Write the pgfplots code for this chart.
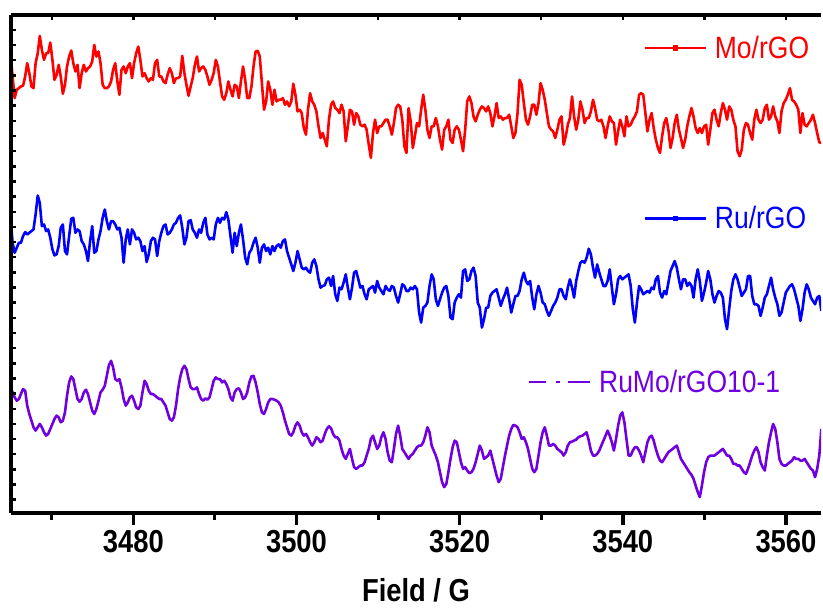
\documentclass[border=0pt]{standalone}
\usepackage{fontspec}
\setmainfont{Liberation Sans}[FakeStretch=0.86]
\usepackage{pgfplots}
\usepackage{pgfplotstable}
\pgfplotsset{compat=1.18}
\definecolor{mored}{RGB}{255,0,0}
\definecolor{rublue}{RGB}{0,0,255}
\definecolor{rumo}{RGB}{112,0,224}

\pgfplotstableread{
x r b p
3464.94 1440 945 435
3465.20 1370 870 420
3465.45 1305 840 405
3465.71 1330 855 395
3465.97 1335 870 400
3466.22 1340 870 415
3466.48 1342 890 430
3466.74 1370 902 425
3466.99 1410 895 380
3467.25 1380 900 355
3467.51 1340 905 335
3467.76 1335 910 315
3468.02 1410 955 305
3468.28 1440 1012 315
3468.53 1492 990 325
3468.79 1450 920 315
3469.05 1420 925 300
3469.31 1440 905 290
3469.56 1440 910 295
3469.82 1472 885 310
3470.08 1420 850 325
3470.33 1360 832 340
3470.59 1375 835 350
3470.85 1405 860 345
3471.10 1370 915 330
3471.36 1318 925 335
3471.62 1345 845 360
3471.87 1400 835 410
3472.13 1430 890 450
3472.39 1448 942 468
3472.64 1410 945 460
3472.90 1385 900 430
3473.16 1405 910 400
3473.41 1335 905 392
3473.67 1380 875 400
3473.93 1405 865 420
3474.19 1385 845 428
3474.44 1395 815 415
3474.70 1400 875 390
3474.96 1415 920 365
3475.21 1465 840 355
3475.47 1430 845 370
3475.73 1445 880 395
3475.98 1410 905 420
3476.24 1345 945 428
3476.50 1335 970 440
3476.75 1335 935 470
3477.01 1340 910 502
3477.27 1355 935 515
3477.52 1390 935 495
3477.78 1410 925 460
3478.04 1355 910 455
3478.29 1315 915 460
3478.55 1390 885 435
3478.81 1400 810 400
3479.07 1380 880 380
3479.32 1400 910 390
3479.58 1410 865 405
3479.84 1365 910 410
3480.09 1410 900 395
3480.35 1440 880 375
3480.61 1460 885 370
3480.86 1420 875 380
3481.12 1370 845 420
3481.38 1380 860 455
3481.63 1365 812 445
3481.89 1355 835 425
3482.15 1365 875 415
3482.40 1360 885 415
3482.66 1410 880 410
3482.92 1420 830 405
3483.18 1370 875 400
3483.43 1370 900 400
3483.69 1355 920 390
3483.95 1350 925 380
3484.20 1375 895 360
3484.46 1395 900 340
3484.72 1380 910 335
3484.97 1350 925 345
3485.23 1365 930 380
3485.49 1365 945 430
3485.74 1370 952 465
3486.00 1432 915 490
3486.26 1380 865 500
3486.51 1345 885 490
3486.77 1312 935 460
3487.03 1340 938 435
3487.28 1365 910 430
3487.54 1405 900 430
3487.80 1430 885 435
3488.06 1385 910 415
3488.31 1395 900 400
3488.57 1400 930 395
3488.83 1390 945 402
3489.08 1370 895 398
3489.34 1345 880 405
3489.60 1360 885 430
3489.85 1380 880 455
3490.11 1420 925 465
3490.37 1400 945 460
3490.62 1355 930 460
3490.88 1310 945 450
3491.14 1300 940 455
3491.40 1320 962 445
3491.65 1355 940 430
3491.91 1330 890 405
3492.17 1310 840 395
3492.42 1345 900 420
3492.68 1340 860 430
3492.94 1305 900 432
3493.19 1355 925 420
3493.45 1400 880 400
3493.71 1360 825 405
3493.96 1305 805 420
3494.22 1305 840 450
3494.48 1340 850 468
3494.73 1400 870 470
3494.99 1445 885 450
3495.25 1447 855 420
3495.50 1430 810 385
3495.76 1350 855 360
3496.02 1270 865 355
3496.28 1295 845 370
3496.53 1355 855 390
3496.79 1330 835 400
3497.05 1285 860 400
3497.30 1330 845 398
3497.56 1295 860 395
3497.82 1300 865 390
3498.07 1300 855 380
3498.33 1305 875 360
3498.59 1285 880 335
3498.84 1295 845 315
3499.10 1280 825 295
3499.36 1295 805 290
3499.61 1348 785 300
3499.87 1315 810 320
3500.13 1265 845 330
3500.39 1270 820 320
3500.64 1260 795 300
3500.90 1215 790 290
3501.16 1195 795 295
3501.41 1270 785 285
3501.67 1320 780 270
3501.93 1295 810 260
3502.18 1285 820 270
3502.44 1265 800 285
3502.70 1220 760 280
3502.95 1185 735 270
3503.21 1200 740 275
3503.47 1180 742 295
3503.72 1160 760 310
3503.98 1240 765 318
3504.24 1285 740 312
3504.49 1295 770 295
3504.75 1275 715 285
3505.01 1270 695 285
3505.27 1260 735 275
3505.52 1285 730 250
3505.78 1265 750 230
3506.04 1175 775 220
3506.29 1220 735 235
3506.55 1270 700 250
3506.81 1265 735 220
3507.06 1225 780 195
3507.32 1260 785 190
3507.58 1250 760 195
3507.83 1225 735 200
3508.09 1220 740 200
3508.35 1225 715 210
3508.60 1210 700 230
3508.86 1165 730 250
3509.12 1125 735 280
3509.38 1200 740 290
3509.63 1240 720 270
3509.89 1200 755 250
3510.15 1220 735 260
3510.40 1220 725 285
3510.66 1230 715 300
3510.92 1240 740 280
3511.17 1240 730 240
3511.43 1220 725 215
3511.69 1195 740 210
3511.94 1230 735 250
3512.20 1275 710 295
3512.46 1285 690 320
3512.71 1280 715 290
3512.97 1240 745 250
3513.23 1160 740 240
3513.48 1140 725 230
3513.74 1275 725 220
3514.00 1235 735 230
3514.26 1155 730 235
3514.51 1190 740 245
3514.77 1230 730 255
3515.03 1220 660 260
3515.28 1270 630 260
3515.54 1315 675 270
3515.80 1270 680 290
3516.05 1210 690 315
3516.31 1185 740 300
3516.57 1220 775 260
3516.82 1220 760 245
3517.08 1245 700 230
3517.34 1220 680 210
3517.59 1180 700 180
3517.85 1150 720 150
3518.11 1210 735 135
3518.37 1220 740 145
3518.62 1240 710 180
3518.88 1180 645 220
3519.14 1170 640 255
3519.39 1210 690 275
3519.65 1220 705 270
3519.91 1210 715 240
3520.16 1180 705 210
3520.42 1145 785 190
3520.68 1210 790 195
3520.93 1295 755 185
3521.19 1310 760 177
3521.45 1290 785 180
3521.70 1250 795 190
3521.96 1235 770 210
3522.22 1255 690 235
3522.47 1270 675 260
3522.73 1280 615 245
3522.99 1275 640 220
3523.25 1265 675 225
3523.50 1280 675 230
3523.76 1260 710 245
3524.02 1220 720 220
3524.27 1250 725 195
3524.53 1290 730 170
3524.79 1245 705 150
3525.04 1250 680 160
3525.30 1240 700 195
3525.56 1245 715 230
3525.81 1245 735 260
3526.07 1255 700 290
3526.33 1220 660 310
3526.58 1185 685 322
3526.84 1200 710 320
3527.10 1260 710 315
3527.35 1360 725 300
3527.61 1345 760 280
3527.87 1290 780 285
3528.13 1240 755 270
3528.38 1225 745 250
3528.64 1250 755 220
3528.90 1285 705 190
3529.15 1285 670 180
3529.41 1255 715 190
3529.67 1290 740 230
3529.92 1350 720 270
3530.18 1330 690 300
3530.44 1300 685 315
3530.69 1260 665 290
3530.95 1220 650 260
3531.21 1210 665 260
3531.46 1205 680 265
3531.72 1185 690 260
3531.98 1210 705 250
3532.24 1240 730 245
3532.49 1250 730 240
3532.75 1165 710 230
3533.01 1190 700 240
3533.26 1225 735 260
3533.52 1245 760 270
3533.78 1310 735 272
3534.03 1250 705 275
3534.29 1210 755 278
3534.55 1240 785 285
3534.80 1295 810 288
3535.06 1270 815 290
3535.32 1230 810 295
3535.57 1245 825 300
3535.83 1245 852 275
3536.09 1265 835 245
3536.35 1300 795 230
3536.60 1275 765 230
3536.86 1240 805 235
3537.12 1235 780 245
3537.37 1240 760 260
3537.63 1220 740 275
3537.89 1185 740 290
3538.14 1220 755 305
3538.40 1250 790 290
3538.66 1235 735 270
3538.91 1230 685 245
3539.17 1165 715 280
3539.43 1205 760 320
3539.68 1240 770 350
3539.94 1220 760 360
3540.20 1190 765 330
3540.45 1250 770 280
3540.71 1220 775 230
3540.97 1225 740 230
3541.23 1240 670 245
3541.48 1250 630 255
3541.74 1265 690 255
3542.00 1315 740 245
3542.25 1320 730 230
3542.51 1315 715 210
3542.77 1260 720 240
3543.02 1205 725 270
3543.28 1240 720 285
3543.54 1260 735 290
3543.79 1215 730 275
3544.05 1180 760 250
3544.31 1155 770 230
3544.56 1140 720 215
3544.82 1190 705 210
3545.08 1230 725 220
3545.33 1245 715 230
3545.59 1210 750 240
3545.85 1155 785 245
3546.11 1185 800 250
3546.36 1230 815 255
3546.62 1255 795 260
3546.88 1210 760 240
3547.13 1185 730 220
3547.39 1155 760 210
3547.65 1180 760 200
3547.90 1220 740 190
3548.16 1250 750 180
3548.42 1275 740 172
3548.67 1250 705 160
3548.93 1215 760 140
3549.19 1200 790 120
3549.44 1215 755 105
3549.70 1200 695 140
3549.96 1220 720 180
3550.22 1225 750 210
3550.47 1165 785 225
3550.73 1210 760 230
3550.99 1260 715 230
3551.24 1270 690 230
3551.50 1240 710 235
3551.76 1220 725 240
3552.01 1260 720 245
3552.27 1290 705 250
3552.53 1270 640 240
3552.78 1240 610 230
3553.04 1280 670 230
3553.30 1270 725 220
3553.55 1240 760 205
3553.81 1220 775 205
3554.07 1145 760 200
3554.33 1130 735 200
3554.58 1150 710 190
3554.84 1210 720 180
3555.10 1230 730 175
3555.35 1225 770 190
3555.61 1200 770 210
3555.87 1180 710 230
3556.12 1240 685 245
3556.38 1270 685 255
3556.64 1240 680 240
3556.89 1230 650 210
3557.15 1240 675 195
3557.41 1275 705 185
3557.66 1285 715 230
3557.92 1240 740 270
3558.18 1250 765 300
3558.43 1280 730 325
3558.69 1250 705 310
3558.95 1235 685 270
3559.20 1200 650 220
3559.46 1265 660 205
3559.72 1290 690 200
3559.98 1300 720 200
3560.23 1315 730 205
3560.49 1335 740 210
3560.75 1300 745 215
3561.00 1295 730 225
3561.26 1285 705 220
3561.52 1270 680 220
3561.77 1200 635 215
3562.03 1260 670 215
3562.29 1225 720 220
3562.54 1220 745 210
3562.80 1230 730 200
3563.06 1240 705 190
3563.31 1255 695 185
3563.57 1230 685 165
3563.83 1200 705 190
3564.09 1172 710 230
3564.34 1170 665 310
}\spectra

\pgfplotsset{
  common/.style={
    scale only axis, width=812bp, height=499bp,
    xmin=3465, xmax=3564.3, ymin=58, ymax=1555,
  },
  leg/.style={
    common, hide axis,
    legend cell align=left,
    legend style={draw=none, fill=none, inner sep=0pt, outer sep=0pt,
      nodes={inner sep=0pt, font=\fontsize{31}{31}\selectfont}},
  },
}

\begin{document}
\begin{tikzpicture}
% main axis with data, bottom ticks and label
\begin{axis}[common,
  axis x line*=bottom, axis y line*=left,
  axis line style={line width=4bp, -},
  every outer x axis line/.append style={-},
  every outer y axis line/.append style={-},
  xtick={3480,3500,...,3560},
  minor xtick={3470,3490,...,3550},
  ytick=\empty,
  tick align=outside,
  major tick length=12bp, minor tick length=7bp,
  major tick style={black, line width=3.5bp},
  minor tick style={black, line width=3bp},
  /pgf/number format/1000 sep={},
  /pgf/number format/assume math mode=true,
  xticklabel style={font=\fontsize{32}{32}\selectfont\bfseries, inner sep=0pt, yshift=-5.7bp},
  xlabel={\bfseries Field / G},
  xlabel style={font=\fontsize{32}{32}\selectfont, at={(axis description cs:0.5,0)}, anchor=north, yshift=-66bp, inner sep=0pt},
]
\addplot[mored, line width=2.6bp, line join=round] table[x=x, y=r]{\spectra};
\addplot[rublue, line width=2.6bp, line join=round] table[x=x, y=b]{\spectra};
\addplot[rumo, line width=2.6bp, line join=round] table[x=x, y=p]{\spectra};
\coordinate (bbsw) at (rel axis cs:0,0);
\coordinate (bbne) at (rel axis cs:1,1);
\end{axis}
% top line, top ticks and inner left ticks
\begin{axis}[common,
  axis x line*=top, axis y line*=left,
  axis line style={line width=4bp, -},
  every outer x axis line/.append style={-},
  every outer y axis line/.append style={-},
  tick align=inside,
  xtick={3470,3480,...,3560}, xticklabels={},
  ytick={97.3,142.87,...,1511}, yticklabels={},
  major tick length=5bp,
  major tick style={black, line width=2.5bp},
]
\end{axis}
% legends
\begin{axis}[leg, legend style={at={(axis description cs:0.7808,0.9339)}, anchor=west}]
\addlegendimage{legend image code/.code={\draw[mored, line width=2.6bp] (0bp,0bp) -- (61bp,0bp); \fill[mored] (28.5bp,-2.2bp) rectangle (33bp,2.2bp);}}
\addlegendentry{\hspace{8bp}\textcolor{mored}{Mo/rGO}}
\end{axis}
\begin{axis}[leg, legend style={at={(axis description cs:0.7808,0.5912)}, anchor=west}]
\addlegendimage{legend image code/.code={\draw[rublue, line width=2.6bp] (0bp,0bp) -- (61bp,0bp); \fill[rublue] (28.5bp,-2.2bp) rectangle (33bp,2.2bp);}}
\addlegendentry{\hspace{8bp}\textcolor{rublue}{Ru/rGO}}
\end{axis}
\begin{axis}[leg, legend style={at={(axis description cs:0.6379,0.2625)}, anchor=west}]
\addlegendimage{legend image code/.code={\draw[rumo, line width=2.6bp, dash pattern=on 17bp off 10bp on 4bp off 8bp on 22bp] (0bp,0bp) -- (61bp,0bp);}}
\addlegendentry{\hspace{8bp}\textcolor{rumo}{RuMo/rGO10-1}}
\end{axis}
\path ([shift={(-11bp,-96bp)}]bbsw) rectangle ([shift={(0bp,15bp)}]bbne);
\end{tikzpicture}
\end{document}
